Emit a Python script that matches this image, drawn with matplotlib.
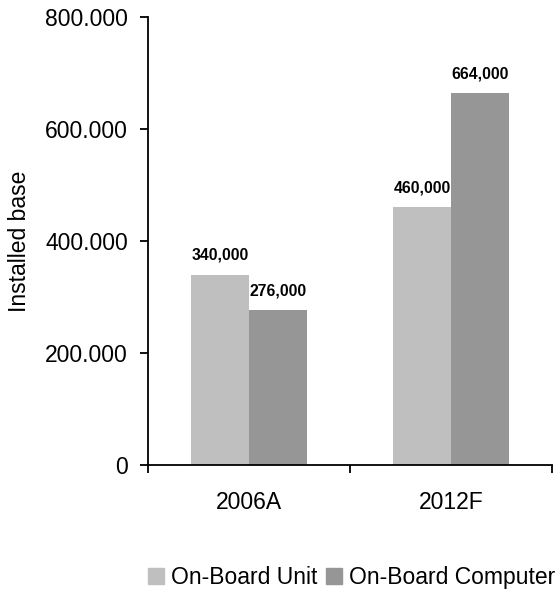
import matplotlib
matplotlib.use("Agg")
import matplotlib.pyplot as plt
from matplotlib.patches import Patch

plt.rcParams['font.family'] = ['Liberation Sans', 'DejaVu Sans']

# Data (installed base, in thousands)
years = ['2006A', '2012F']
obu = [340, 460]   # On-Board Unit
obc = [276, 664]   # On-Board Computer
series_names = ['On-Board Unit', 'On-Board Computer']
ytick_vals = [0, 200, 400, 600, 800]
ytick_labels = ['0', '200.000', '400.000', '600.000', '800.000']

col_light = '#bfbfbf'
col_dark = '#969696'

fig = plt.figure(figsize=(5.58, 5.9), dpi=100)
ax = fig.add_axes([148/558, 1 - 465/590, 404/558, 448/590])

w = 0.287
x = range(len(years))
bars1 = ax.bar([i - w/2 for i in x], obu, width=w, color=col_light)
bars2 = ax.bar([i + w/2 for i in x], obc, width=w, color=col_dark)

# Value labels above bars
for bars, vals in [(bars1, obu), (bars2, obc)]:
    for b, v in zip(bars, vals):
        ax.annotate(f'{v},000', (b.get_x() + b.get_width()/2, v),
                    xytext=(0, 14), textcoords='offset points',
                    ha='center', va='center', fontsize=11.3, fontweight='bold')

ax.set_xlim(-0.5, 1.5)
ax.set_ylim(0, 800)

ax.spines['top'].set_visible(False)
ax.spines['right'].set_visible(False)
ax.spines['left'].set_linewidth(1.3)
ax.spines['bottom'].set_linewidth(1.3)

ax.set_yticks(ytick_vals)
ax.set_yticklabels(ytick_labels, fontsize=16.5)
ax.tick_params(axis='y', direction='out', length=6, width=1.3, pad=8.5)

# category boundary ticks, labels in the middle
ax.set_xticks([-0.5, 0.5, 1.5])
ax.set_xticklabels(['', '', ''])
ax.tick_params(axis='x', which='major', direction='out', length=6, width=1.3)
ax.set_xticks(list(x), minor=True)
ax.set_xticklabels(years, minor=True, fontsize=16.5)
ax.tick_params(axis='x', which='minor', length=0, pad=18.5)

ax.set_ylabel('Installed base', fontsize=16.5, labelpad=10)

handles = [Patch(color=col_light), Patch(color=col_dark)]
fig.legend(handles, series_names, loc='lower right', ncol=2,
           bbox_to_anchor=(0.997, 0.0), frameon=False, fontsize=16.5,
           handlelength=0.68, handleheight=0.68, handletextpad=0.3,
           columnspacing=0.4, borderaxespad=0.0, borderpad=0.05)

fig.savefig('out.png', dpi=100)
